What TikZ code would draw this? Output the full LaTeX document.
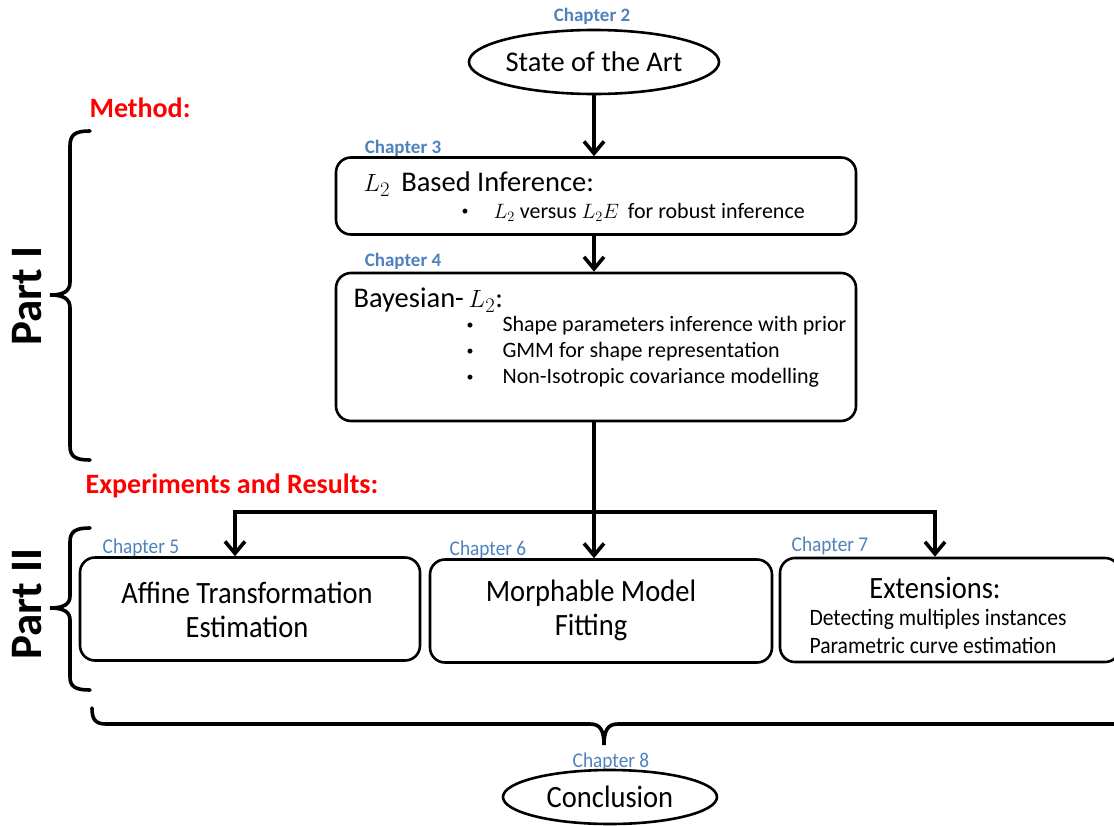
\documentclass[tikz,border=0pt]{standalone}
\usepackage{fontspec}
\setmainfont{Carlito}
\newfontfamily\narrowfont[FakeStretch=0.92]{Carlito}
\usetikzlibrary{arrows.meta,shapes.geometric}
\definecolor{chapblue}{RGB}{79,129,189}
\definecolor{headred}{RGB}{255,0,0}

\begin{document}
\begin{tikzpicture}[x=1pt,y=-1pt]
        \tikzset{box/.style = {draw, line width=2.6pt, rounded corners=15pt, inner sep=0pt}}
        \tikzset{oval/.style = {draw, ellipse, line width=2.6pt, inner sep=0pt}}
        \tikzset{arr/.style = {line width=3.6pt, -{Straight Barb[length=12pt,width=20pt,line width=3.6pt]}}}
        \tikzset{trunk/.style = {line width=3.6pt}}
        \tikzset{brc/.style = {line width=3.6pt, line cap=round}}
        \tikzset{chap/.style = {text=chapblue, font=\bfseries\fontsize{19}{22}\selectfont}}
        \tikzset{nchap/.style = {text=chapblue, font=\narrowfont\fontsize{21}{24}\selectfont}}
        \tikzset{head/.style = {text=headred, font=\bfseries\fontsize{28}{30}\selectfont}}
        \tikzset{part/.style = {font=\bfseries\fontsize{45}{48}\selectfont, rotate=90}}
        \tikzset{dot/.style = {font=\fontsize{14}{16}\selectfont}}
        \tikzset{item/.style = {anchor=west, font=\fontsize{22}{24}\selectfont}}

        \clip (0,0) rectangle (1114,825);

        \node[chap] (c2) at (592,16) {Chapter 2};
        \node[oval, minimum width=234pt, minimum height=64pt, font=\fontsize{28.5}{30}\selectfont] (sota) at (594,62) {State of the Art};

        \node[head] (meth) at (140,108) {Method:};

        \node[chap] (c3) at (403,148) {Chapter 3};
        \node[box, minimum width=520pt, minimum height=77pt] (bi) at (596,196) {};
        \node[anchor=west, font=\fontsize{28.5}{30}\selectfont] (bit) at (360,184) {$L_2$\, Based Inference:};
        \node[dot] (bib) at (465,212) {\textbullet};
        \node[item] (bil) at (490,212) {$L_2$ versus $L_2E$\, for robust inference};

        \node[chap] (c4) at (403,261) {Chapter 4};
        \node[box, minimum width=520pt, minimum height=148pt] (bay) at (596,347) {};
        \node[anchor=west, font=\fontsize{28.5}{30}\selectfont] (bayt) at (350,300) {Bayesian-\,$L_2$:};
        \node[dot] (bayb1) at (470,326) {\textbullet};
        \node[dot] (bayb2) at (470,352) {\textbullet};
        \node[dot] (bayb3) at (470,378) {\textbullet};
        \node[item] (bayl1) at (499,326) {Shape parameters inference with prior};
        \node[item] (bayl2) at (499,352) {GMM for shape representation};
        \node[item] (bayl3) at (499,378) {Non-Isotropic covariance modelling};

        \node[head] (exp) at (232,486) {Experiments and Results:};

        \node[nchap] (c5) at (141,548) {Chapter 5};
        \node[nchap] (c6) at (488,550) {Chapter 6};
        \node[nchap] (c7) at (830,546) {Chapter 7};

        \node[box, minimum width=340pt, minimum height=103pt] (aff) at (250,609) {};
        \node[box, minimum width=342pt, minimum height=103pt] (morph) at (601,611) {};
        \node[box, minimum width=340pt, minimum height=104pt] (ext) at (950,610) {};

        \node[font=\narrowfont\fontsize{31}{34}\selectfont] (afft1) at (247,593) {Affine Transformation};
        \node[font=\narrowfont\fontsize{31}{34}\selectfont] (afft2) at (247,627) {Estimation};
        \node[font=\narrowfont\fontsize{31}{34}\selectfont] (morpht1) at (591,593) {Morphable Model};
        \node[font=\narrowfont\fontsize{31}{34}\selectfont] (morpht2) at (591,627) {Fitting};
        \node[font=\narrowfont\fontsize{31}{34}\selectfont] (extt) at (935,588) {Extensions:};
        \node[anchor=west, font=\narrowfont\fontsize{23.5}{26}\selectfont] (extl1) at (806,619) {Detecting multiples instances};
        \node[anchor=west, font=\narrowfont\fontsize{23.5}{26}\selectfont] (extl2) at (806,645) {Parametric curve estimation};

        \node[nchap] (c8) at (611,762) {Chapter 8};
        \node[oval, minimum width=214pt, minimum height=54pt, font=\narrowfont\fontsize{31}{34}\selectfont] (concl) at (610,797) {Conclusion};

        \node[part] (p1) at (27,296) {Part I};
        \node[part] (p2) at (27,604) {Part II};

        \coordinate (split) at (594,512);
        \coordinate (sl) at (235,512);
        \coordinate (sr) at (935,512);

        \draw[arr] (sota.south -| split) -- (split |- bi.north);
        \draw[arr] (bi.south -| split) -- (split |- bay.north);
        \draw[trunk] (bay.south -| split) -- (split);
        \draw[trunk, line cap=rect] (sl) -- (sr);
        \draw[arr] (sl) -- (sl |- aff.north);
        \draw[arr] (split) -- (split |- morph.north);
        \draw[arr] (sr) -- (sr |- ext.north);

        \draw[brc] (90,131) .. controls (76,131) and (70,134) .. (70,146) -- (70,282)
            .. controls (70,291) and (64,295) .. (50,295)
            .. controls (64,295) and (70,299) .. (70,308) -- (70,446)
            .. controls (70,457) and (76,460) .. (90,460);
        \draw[brc] (90,528) .. controls (76,528) and (70,531) .. (70,542) -- (70,596)
            .. controls (70,604) and (64,608) .. (50,608)
            .. controls (64,608) and (70,612) .. (70,620) -- (70,677)
            .. controls (70,687) and (76,690) .. (90,690);
        \draw[brc] (92,708) .. controls (92,719) and (95,724) .. (106,724) -- (590,724)
            .. controls (600,724) and (604,730) .. (604,745)
            .. controls (604,730) and (608,724) .. (618,724) -- (1120,724);
\end{tikzpicture}
\end{document}
